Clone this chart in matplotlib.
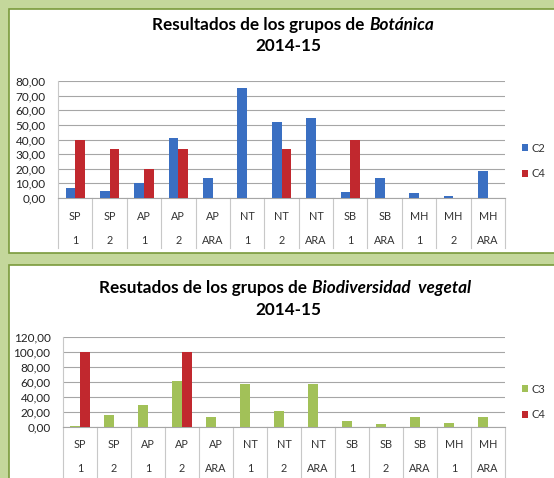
import matplotlib
matplotlib.use('Agg')
import matplotlib.pyplot as plt
from matplotlib.patches import Rectangle
from matplotlib.ticker import FuncFormatter
import matplotlib.transforms as mtransforms
import numpy as np

plt.rcParams['font.family'] = ['Lato', 'DejaVu Sans']

# --- data ---
bot_groups = ['SP', 'SP', 'AP', 'AP', 'AP', 'NT', 'NT', 'NT', 'SB', 'SB', 'MH', 'MH', 'MH']
bot_sub = ['1', '2', '1', '2', 'ARA', '1', '2', 'ARA', '1', 'ARA', '1', '2', 'ARA']
bot_c2 = [7.1, 4.8, 10.0, 41.0, 13.4, 75.0, 52.2, 54.7, 4.1, 13.4, 3.4, 1.6, 18.2]
bot_c4 = [40.0, 33.3, 20.0, 33.3, 0, 0, 33.3, 0, 40.0, 0, 0, 0, 0]

bio_groups = ['SP', 'SP', 'AP', 'AP', 'AP', 'NT', 'NT', 'NT', 'SB', 'SB', 'SB', 'MH', 'MH']
bio_sub = ['1', '2', '1', '2', 'ARA', '1', '2', 'ARA', '1', '2', 'ARA', '1', 'ARA']
bio_c3 = [1.0, 16.4, 29.7, 60.7, 13.3, 57.6, 21.0, 57.1, 7.5, 3.5, 13.3, 4.9, 13.3]
bio_c4 = [100.0, 0, 0, 100.0, 0, 0, 0, 0, 0, 0, 0, 0, 0]

W, H = 554, 478
fig = plt.figure(figsize=(W / 100, H / 100), dpi=100)
fig.patch.set_facecolor('#C4D79B')

def px_rect(x0, y0, x1, y1):
    return [x0 / W, 1 - y1 / H, (x1 - x0) / W, (y1 - y0) / H]

# white panels
for (x0, y0, x1, y1) in [(9, 9, 556, 253), (9, 265, 556, 480)]:
    fig.patches.append(Rectangle((x0 / W, 1 - y1 / H), (x1 - x0) / W, (y1 - y0) / H,
                                 transform=fig.transFigure, facecolor='white',
                                 edgecolor='#7A9A3C', linewidth=1.2, zorder=-5))

fmt = FuncFormatter(lambda v, p: f'{v:.2f}'.replace('.', ','))


def draw_chart(rect, groups, sub, s1, s2, names, colors, ymax, step, row_px):
    ax = fig.add_axes(rect)
    ax.patch.set_alpha(0)
    x = np.arange(len(groups))
    w = 0.28
    ax.bar(x - w / 2, s1, w, color=colors[0], label=names[0], zorder=3)
    ax.bar(x + w / 2, s2, w, color=colors[1], label=names[1], zorder=3)
    ax.set_xlim(-0.5, len(groups) - 0.5)
    ax.set_ylim(0, ymax)
    ax.set_yticks(np.arange(0, ymax + 1, step))
    ax.yaxis.set_major_formatter(fmt)
    ax.grid(axis='y', color='#A6A6A6', linewidth=0.8, zorder=0)
    ax.set_axisbelow(True)
    ax.tick_params(axis='y', length=0, pad=9, labelsize=8.5, colors='#222222')
    ax.set_xticks([])
    for s in ['top', 'right']:
        ax.spines[s].set_visible(False)
    ax.spines['left'].set_color('#C8C8C8')
    ax.spines['bottom'].set_color('#A6A6A6')
    # category table under the axis
    ax_h = rect[3] * H
    trans = mtransforms.blended_transform_factory(ax.transData, ax.transAxes)
    y_bottom = -row_px[2] / ax_h
    for i in range(len(groups) + 1):
        ax.plot([i - 0.5, i - 0.5], [0, y_bottom], transform=trans, color='#C8C8C8',
                linewidth=0.8, clip_on=False)
    for i in range(len(groups)):
        ax.text(i, -row_px[0] / ax_h, groups[i], transform=trans, ha='center',
                va='center', fontsize=7.8, color='#333333')
        ax.text(i, -row_px[1] / ax_h, sub[i], transform=trans, ha='center',
                va='center', fontsize=7.8, color='#333333')
    return ax


ax1 = draw_chart(px_rect(58, 81, 505, 198), bot_groups, bot_sub, bot_c2, bot_c4,
                 ['C2', 'C4'], ['#3A6FC2', '#C1282E'], 80, 10, (18, 43, 50))
ax2 = draw_chart(px_rect(63, 337, 505, 427), bio_groups, bio_sub, bio_c3, bio_c4,
                 ['C3', 'C4'], ['#A2C158', '#C1282E'], 120, 20, (18, 42, 60))

for ax, ypos in [(ax1, 161 / H), (ax2, 402 / H)]:
    ax.legend(loc='center left', bbox_to_anchor=(516 / W, 1 - ypos),
              bbox_transform=fig.transFigure, frameon=False, fontsize=8,
              handlelength=0.6, handleheight=0.6, handletextpad=0.3,
              labelspacing=1.3, borderpad=0, labelcolor='#333333')

# titles (regular bold part + bold italic part, centred together)
renderer = fig.canvas.get_renderer()


def title_line(cx, cy, plain, italic, size=12.3):
    t1 = fig.text(0, 1 - cy / H, plain, ha='left', va='center', fontsize=size,
                  fontweight='bold')
    t2 = fig.text(0, 1 - cy / H, italic, ha='left', va='center', fontsize=size,
                  fontweight='bold', style='italic')
    w1 = t1.get_window_extent(renderer).width
    w2 = t2.get_window_extent(renderer).width
    x0 = cx - (w1 + w2) / 2
    t1.set_x(x0 / W)
    t2.set_x((x0 + w1) / W)


title_line(293, 25, 'Resultados de los grupos de ', 'Botánica')
fig.text(288 / W, 1 - 46 / H, '2014-15', ha='center', va='center',
         fontsize=12.3, fontweight='bold')
title_line(285, 288, 'Resutados de los grupos de ', 'Biodiversidad  vegetal')
fig.text(288 / W, 1 - 310 / H, '2014-15', ha='center', va='center',
         fontsize=12.3, fontweight='bold')

fig.savefig('out.png', dpi=100, facecolor=fig.get_facecolor())
